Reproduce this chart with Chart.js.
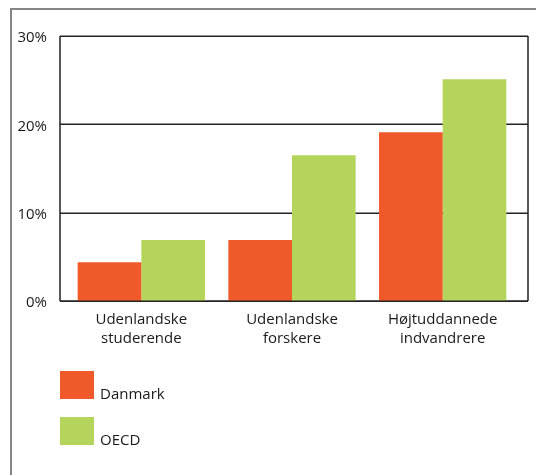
<!DOCTYPE html>
<html>
<head>
<meta charset="utf-8">
<script src="https://cdn.jsdelivr.net/npm/chart.js@4"></script>
<style>
  body { margin: 0; background: #fff; font-family: "Open Sans", sans-serif; }
  #wrap { position: relative; width: 536px; height: 475px; overflow: hidden; }
  #frame { position: absolute; left: 10px; top: 8px; width: 600px; height: 600px;
           border-left: 2px solid #858585; border-top: 2px solid #858585; }
  canvas { position: absolute; left: 0; top: 0; }
  .leg { position: absolute; left: 60px; height: 28px; }
  .leg .box { position: absolute; left: 0; top: 0; width: 34px; height: 28px; }
  .leg .txt { position: absolute; left: 40px; bottom: -4px; font-size: 15px; color: #1a1a1a; white-space: nowrap; }
</style>
</head>
<body>
<div id="wrap">
  <div id="frame"></div>
  <canvas id="chart" width="536" height="475"></canvas>
  <div id="legend"></div>
</div>
<script>
  const categories = [['Udenlandske', 'studerende'], ['Udenlandske', 'forskere'], ['Højtuddannede', 'indvandrere']];
  const seriesNames = ['Danmark', 'OECD'];
  const danmark = [4.4, 6.9, 19.1];
  const oecd = [6.9, 16.5, 25.1];
  const yMax = 30;
  const yStep = 10;

  const colors = ['#F05A2A', '#B4D45C'];
  const textColor = '#1a1a1a';
  // the plot box is a little wider than the category bands
  const boxLeftExtra = 6;
  const boxRightExtra = 10;

  // draws the box and the gridlines round the plot area
  const plotBox = {
    id: 'plotBox',
    beforeDatasetsDraw(chart) {
      const a = chart.chartArea;
      const y = chart.scales.y;
      const c = chart.ctx;
      const left = a.left - boxLeftExtra;
      const right = a.right + boxRightExtra;
      c.save();
      c.strokeStyle = '#222';
      c.lineWidth = 1.5;
      y.ticks.forEach(t => {
        const py = Math.round(y.getPixelForValue(t.value)) + 0.25;
        c.beginPath();
        c.moveTo(left, py);
        c.lineTo(right, py);
        c.stroke();
      });
      c.beginPath();
      c.moveTo(left, a.top);
      c.lineTo(left, a.bottom);
      c.moveTo(right, a.top);
      c.lineTo(right, a.bottom);
      c.stroke();
      c.restore();
    },
    afterDatasetsDraw(chart) {
      const a = chart.chartArea;
      const c = chart.ctx;
      c.save();
      c.strokeStyle = '#222';
      c.lineWidth = 1.5;
      c.beginPath();
      c.moveTo(a.left - boxLeftExtra, a.bottom + 0.25);
      c.lineTo(a.right + boxRightExtra, a.bottom + 0.25);
      c.stroke();
      c.restore();
    }
  };

  const ctx = document.getElementById('chart').getContext('2d');
  const chart = new Chart(ctx, {
    type: 'bar',
    data: {
      labels: categories,
      datasets: [
        { label: seriesNames[0], data: danmark, backgroundColor: colors[0] },
        { label: seriesNames[1], data: oecd, backgroundColor: colors[1] }
      ]
    },
    options: {
      responsive: false,
      animation: false,
      layout: { padding: { left: 0, top: 36, right: 18, bottom: 0 } },
      datasets: { bar: { barPercentage: 1, categoryPercentage: 0.845 } },
      plugins: { legend: { display: false }, tooltip: { enabled: false } },
      scales: {
        x: {
          grid: { display: false, drawTicks: false },
          border: { display: false },
          ticks: {
            color: textColor,
            font: { family: 'Open Sans', size: 15, lineHeight: 1.28 },
            padding: 9,
            maxRotation: 0,
            autoSkip: false
          },
          afterFit(scale) { scale.height = 174; }
        },
        y: {
          min: 0,
          max: yMax,
          ticks: {
            stepSize: yStep,
            color: textColor,
            font: { family: 'Open Sans', size: 15 },
            padding: 19,
            labelOffset: 2,
            callback: v => v + '%'
          },
          grid: { display: false, drawTicks: false },
          border: { display: false },
          afterFit(scale) { scale.width = 66; }
        }
      }
    },
    plugins: [plotBox]
  });

  // legend below the chart, one row per series
  const legend = document.getElementById('legend');
  seriesNames.forEach((name, i) => {
    const item = document.createElement('div');
    item.className = 'leg';
    item.style.top = (371 + i * 46) + 'px';
    item.innerHTML = '<div class="box" style="background:' + colors[i] + '"></div><div class="txt">' + name + '</div>';
    legend.appendChild(item);
  });
</script>
</body>
</html>
